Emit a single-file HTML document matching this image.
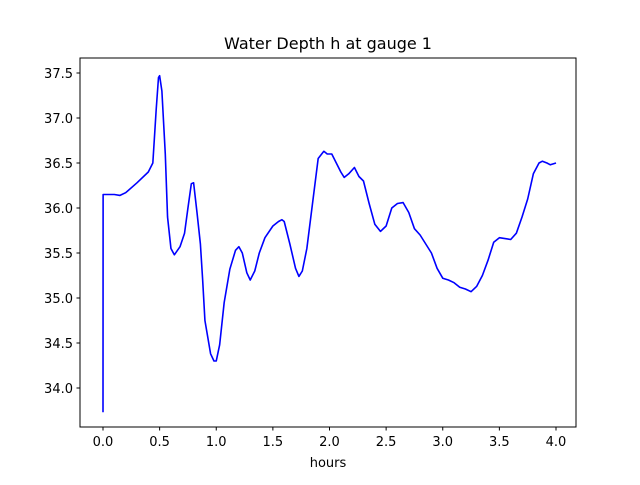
<!DOCTYPE html>
<html><head><meta charset="utf-8"><style>
body{margin:0;background:#fff;}
svg text{font-family:"DejaVu Sans","Liberation Sans",sans-serif;}
</style></head><body>
<svg id="chart" width="640" height="480" xmlns="http://www.w3.org/2000/svg">
<rect width="640" height="480" fill="#fff"/>
<text x="328" y="49" text-anchor="middle" font-size="16">Water Depth h at gauge 1</text>
<g id="plot"></g>
<rect x="80" y="58" width="496" height="369" fill="none" stroke="#000" stroke-width="1"/>
<text x="328" y="467" text-anchor="middle" font-size="13">hours</text>
</svg>
<script>
const hours=[0,0.001,0.1,0.15,0.2,0.3,0.4,0.44,0.47,0.49,0.5,0.52,0.55,0.57,0.6,0.63,0.68,0.72,0.75,0.78,0.8,0.83,0.86,0.88,0.9,0.95,0.98,1.0,1.03,1.07,1.12,1.17,1.2,1.23,1.27,1.3,1.34,1.38,1.43,1.5,1.55,1.58,1.6,1.65,1.7,1.73,1.76,1.8,1.85,1.9,1.95,1.98,2.02,2.06,2.1,2.13,2.17,2.22,2.26,2.3,2.35,2.4,2.45,2.5,2.55,2.6,2.65,2.7,2.75,2.8,2.9,2.95,3.0,3.05,3.1,3.15,3.2,3.25,3.3,3.35,3.4,3.45,3.5,3.6,3.65,3.7,3.75,3.8,3.85,3.88,3.92,3.95,4.0];
const depth=[33.73,36.15,36.15,36.14,36.17,36.28,36.4,36.5,37.1,37.45,37.47,37.3,36.6,35.9,35.55,35.48,35.57,35.72,36.0,36.27,36.28,35.95,35.6,35.2,34.75,34.38,34.3,34.3,34.48,34.95,35.32,35.53,35.57,35.5,35.28,35.2,35.3,35.5,35.67,35.8,35.85,35.87,35.85,35.6,35.33,35.24,35.3,35.55,36.05,36.55,36.63,36.6,36.6,36.5,36.4,36.34,36.38,36.45,36.35,36.3,36.05,35.82,35.74,35.8,36.0,36.05,36.06,35.95,35.77,35.7,35.5,35.33,35.22,35.2,35.17,35.12,35.1,35.07,35.13,35.25,35.42,35.62,35.67,35.65,35.72,35.9,36.1,36.38,36.5,36.52,36.5,36.48,36.5];
const xTicks=[0,0.5,1,1.5,2,2.5,3,3.5,4];
const xTickLabels=["0.0","0.5","1.0","1.5","2.0","2.5","3.0","3.5","4.0"];
const yTicks=[34,34.5,35,35.5,36,36.5,37,37.5];
const yTickLabels=["34.0","34.5","35.0","35.5","36.0","36.5","37.0","37.5"];
const X=v=>103+v*113.25;
const Y=v=>388-(v-34)*90;
const g=document.getElementById('plot');
const NS="http://www.w3.org/2000/svg";
xTicks.forEach((t,i)=>{
 const l=document.createElementNS(NS,'line');
 
 
 l.setAttribute('x1',X(t));l.setAttribute('x2',X(t));l.setAttribute('y1',427);l.setAttribute('y2',430.5);l.setAttribute('stroke','#000');
 g.appendChild(l);
 const tx=document.createElementNS(NS,'text');
 
 
 tx.setAttribute('x',X(t));tx.setAttribute('y',446);tx.setAttribute('text-anchor','middle');tx.setAttribute('font-size','13');
 tx.textContent=xTickLabels[i];g.appendChild(tx);
});
yTicks.forEach((t,i)=>{
 const l=document.createElementNS(NS,'line');
 
 
 l.setAttribute('x1',76.5);l.setAttribute('x2',80);l.setAttribute('y1',Y(t));l.setAttribute('y2',Y(t));l.setAttribute('stroke','#000');
 g.appendChild(l);
 const tx=document.createElementNS(NS,'text');
 
 
 tx.setAttribute('x',73);tx.setAttribute('y',Y(t)+5);tx.setAttribute('text-anchor','end');tx.setAttribute('font-size','13');
 tx.textContent=yTickLabels[i];g.appendChild(tx);
});
const p=document.createElementNS(NS,'polyline');


p.setAttribute('points',hours.map((h,i)=>X(h)+','+Y(depth[i])).join(' '));
p.setAttribute('fill','none');p.setAttribute('stroke','#0000ff');p.setAttribute('stroke-width','1.6');p.setAttribute('stroke-linejoin','round');
g.appendChild(p);
</script>
</body></html>
